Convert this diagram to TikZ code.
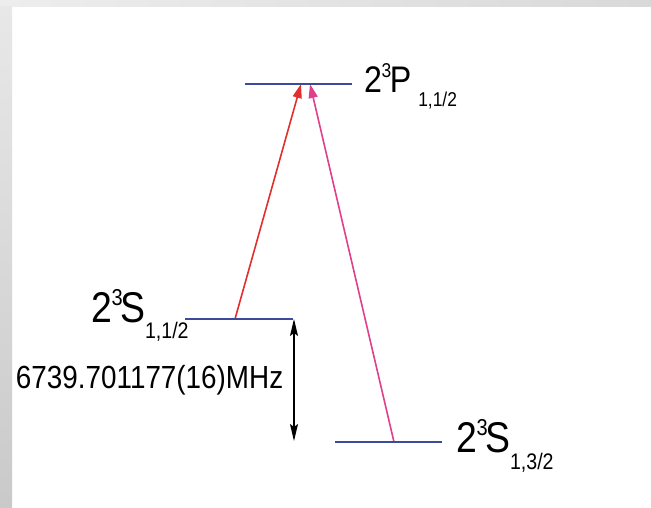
\documentclass[tikz,border=0pt]{standalone}
\usepackage{fontspec}
\setmainfont{Liberation Sans}[FakeStretch=0.87]
\usetikzlibrary{arrows.meta}
\definecolor{levelblue}{HTML}{3B4A9A}
\definecolor{redarrow}{HTML}{E0302E}
\definecolor{pinkarrow}{HTML}{E0408A}
\newcommand\fsz[1]{\fontsize{#1}{#1}\selectfont}
\begin{document}
\begin{tikzpicture}[x=1pt,y=-1pt,
  levelline/.style={levelblue, line width=1.8pt},
  trans/.style={line width=1.6pt, -{Triangle[length=14pt,width=9pt]}},
  interval/.style={black, line width=1.2pt,
    {Stealth[length=17pt,width=8pt,inset=3pt]}-{Stealth[length=17pt,width=8pt,inset=3pt]}},
  lab/.style={anchor=base west, inner sep=0pt, outer sep=0pt}]
\useasboundingbox (0,0) rectangle (651,508);
\fill[white] (0,0) rectangle (651,508);
% frame
\shade[left color=black!7, right color=black!15] (0,0) rectangle (651,7);
\shade[top color=black!9, bottom color=black!21] (0,7) rectangle (12,508);
% levels
\coordinate (P1) at (245,84);
\coordinate (P2) at (352,84);
\coordinate (M1) at (185,319);
\coordinate (M2) at (293,319);
\coordinate (B1) at (335,442);
\coordinate (B2) at (442,442);
% transitions
\coordinate (rs) at (235,319);
\coordinate (re) at (301,84);
\coordinate (ps) at (394,442);
\coordinate (pe) at (310,84);
\draw[trans, redarrow] (rs) -- (re);
\draw[trans, pinkarrow] (ps) -- (pe);
\draw[levelline] (P1) -- (P2);
\draw[levelline] (M1) -- (M2);
\draw[levelline] (B1) -- (B2);
% interval
\coordinate (aU) at (294,319);
\coordinate (aD) at (294,441);
\draw[interval] (aU) -- (aD);
% labels
\node[lab] (lP) at (364,93) {\fsz{37}2\kern-0.3pt\raisebox{15pt}{\fsz{20}3}\kern-1.5pt P\kern7pt\raisebox{-14pt}{\fsz{20}1,1/2}};
\node[lab] (lM) at (91,322) {\fsz{43}2\kern-0.3pt\raisebox{17pt}{\fsz{23}3}\kern-2pt S\kern-0.5pt\raisebox{-16pt}{\fsz{22.5}1,1/2}};
\node[lab] (lB) at (456,452) {\fsz{43}2\kern-0.3pt\raisebox{17pt}{\fsz{23}3}\kern-2pt S\kern-0.5pt\raisebox{-17pt}{\fsz{22.5}1,3/2}};
\node[lab] (freq) at (16,388) {\fsz{32}6739.701177(16)MHz};
\end{tikzpicture}
\end{document}
